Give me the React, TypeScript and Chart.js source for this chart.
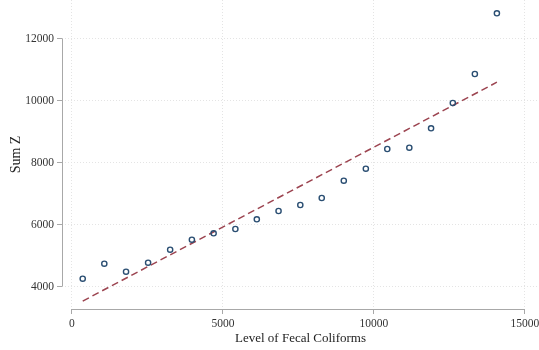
import React, { useEffect, useRef } from "react";
import { Chart, registerables } from "chart.js";

Chart.register(...registerables);

const coliformLevels = [355, 1070, 1790, 2520, 3250, 3970, 4690, 5410, 6120, 6840, 7560, 8270, 9000, 9730, 10440, 11170, 11890, 12610, 13340, 14070];
const sumZ = [4252, 4735, 4477, 4768, 5187, 5510, 5716, 5855, 6168, 6435, 6629, 6855, 7413, 7800, 8435, 8477, 9103, 9919, 10855, 12813];
const fitX = [355, 14070];
const fitY = [3530, 10590];
const xTicks = [0, 5000, 10000, 15000];
const yTicks = [4000, 6000, 8000, 10000, 12000];

const FONT = "'Liberation Serif', 'Times New Roman', serif";

const axisLines = {
  id: "axisLines",
  afterDraw(chart: any) {
    const { ctx, chartArea, scales } = chart;
    const x = scales.x;
    const y = scales.y;
    ctx.save();
    ctx.strokeStyle = "#a8a8a8";
    ctx.lineWidth = 1;
    ctx.beginPath();
    const lx = Math.round(chartArea.left) + 0.5;
    ctx.moveTo(lx, y.getPixelForValue(yTicks[0]));
    ctx.lineTo(lx, y.getPixelForValue(yTicks[yTicks.length - 1]));
    const by = Math.round(chartArea.bottom) + 0.5;
    ctx.moveTo(x.getPixelForValue(xTicks[0]), by);
    ctx.lineTo(x.getPixelForValue(xTicks[xTicks.length - 1]), by);
    ctx.stroke();
    ctx.restore();
  },
};

export default function App() {
  const ref = useRef<HTMLCanvasElement>(null);
  useEffect(() => {
    if (!ref.current) return;
    const chart = new Chart(ref.current, {
      type: "scatter",
      data: {
        datasets: [
          {
            data: coliformLevels.map((v, i) => ({ x: v, y: sumZ[i] })),
            pointRadius: 2.6,
            pointBorderWidth: 1.4,
            pointBorderColor: "#2a4e72",
            pointBackgroundColor: "rgba(255,255,255,0)",
            showLine: false,
            order: 1,
          },
          {
            data: fitX.map((v, i) => ({ x: v, y: fitY[i] })),
            showLine: true,
            borderColor: "#9c4450",
            borderWidth: 1.5,
            borderDash: [7, 4],
            pointRadius: 0,
            order: 2,
          },
        ],
      },
      options: {
        responsive: false,
        animation: false,
        layout: { autoPadding: false, padding: 0 },
        plugins: { legend: { display: false }, tooltip: { enabled: false } },
        scales: {
          x: {
            type: "linear",
            min: -331,
            max: 15464,
            afterBuildTicks: (s: any) => {
              s.ticks = xTicks.map((v) => ({ value: v }));
            },
            afterFit: (s: any) => {
              s.height = 41;
              s.paddingLeft = 0;
              s.paddingRight = 0;
            },
            grid: {
              color: "#e4e4e4",
              tickColor: "#a8a8a8",
              tickLength: 5,
              tickBorderDash: [],
              drawTicks: true,
            },
            border: { display: false, dash: [1, 2] },
            ticks: {
              color: "#333",
              font: { family: FONT, size: 11.5 },
              padding: 3,
              maxRotation: 0,
              callback: (v: any) => String(v),
            },
            title: {
              display: true,
              text: "Level of Fecal Coliforms",
              color: "#222",
              font: { family: FONT, size: 13 },
              padding: { top: 0, bottom: 4 },
            },
          },
          y: {
            type: "linear",
            min: 3274,
            max: 13242,
            afterBuildTicks: (s: any) => {
              s.ticks = yTicks.map((v) => ({ value: v }));
            },
            afterFit: (s: any) => {
              s.width = 62;
              s.paddingTop = 0;
              s.paddingBottom = 0;
            },
            grid: {
              color: "#e4e4e4",
              tickColor: "#a8a8a8",
              tickLength: 5,
              tickBorderDash: [],
              drawTicks: true,
            },
            border: { display: false, dash: [1, 2] },
            ticks: {
              color: "#333",
              font: { family: FONT, size: 11.5 },
              padding: 3,
              callback: (v: any) => String(v),
            },
            title: {
              display: true,
              text: "Sum Z",
              color: "#222",
              font: { family: FONT, size: 14 },
              padding: { top: 8, bottom: 0 },
            },
          },
        },
      },
      plugins: [axisLines],
    });
    return () => chart.destroy();
  }, []);
  return (
    <div style={{ position: "fixed", left: 0, top: 0, width: 539, height: 350, background: "#fff" }}>
      <canvas ref={ref} width={539} height={350} style={{ width: 539, height: 350 }} />
    </div>
  );
}
